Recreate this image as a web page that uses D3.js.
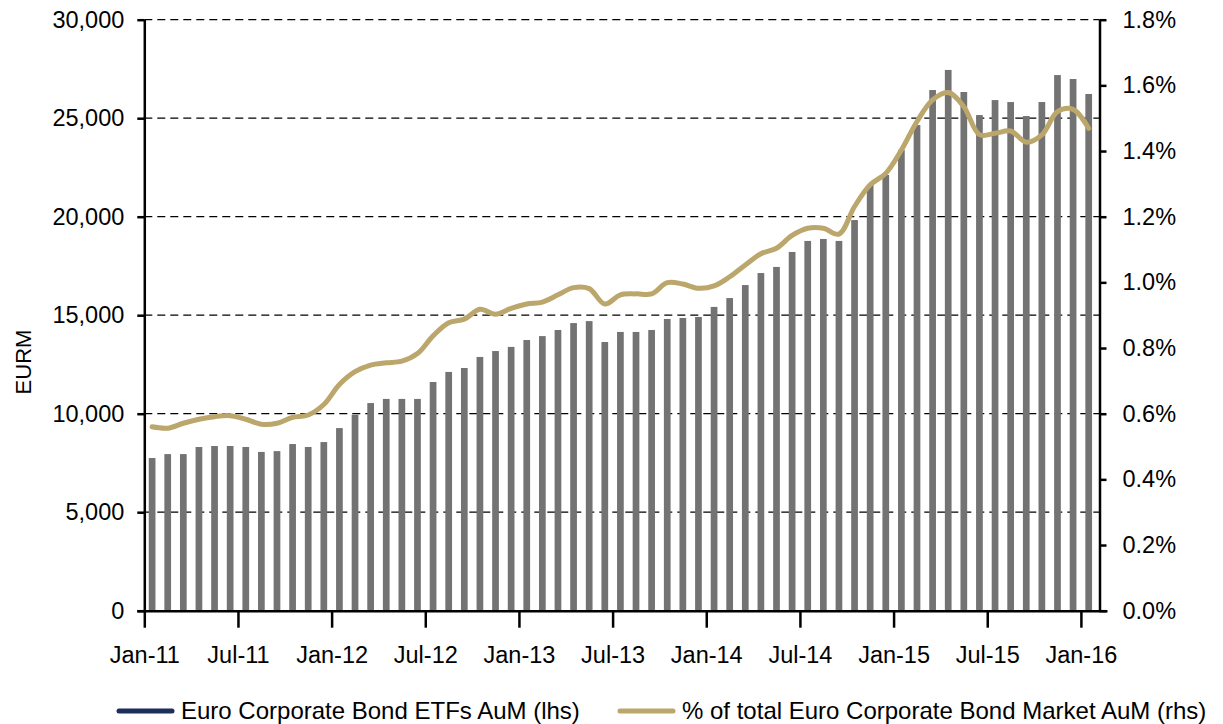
<!DOCTYPE html>
<html lang="en">
<head>
    <meta charset="utf-8">
    <title>Euro Corporate Bond ETFs AuM</title>
    <script src="https://d3js.org/d3.v7.min.js"></script>
    <style>
        body { margin: 0; background: #fff; }
        svg text { font-family: "Liberation Sans", Arial, Helvetica, sans-serif; fill: #000; }
    </style>
</head>
<body>
<div id="chart"></div>
<script>

    // Months shown as bars (Jan-11 .. Jan-16)
    const months = [
        "Jan-11", "Feb-11", "Mar-11", "Apr-11", "May-11", "Jun-11", "Jul-11", "Aug-11", "Sep-11", "Oct-11", "Nov-11", "Dec-11",
        "Jan-12", "Feb-12", "Mar-12", "Apr-12", "May-12", "Jun-12", "Jul-12", "Aug-12", "Sep-12", "Oct-12", "Nov-12", "Dec-12",
        "Jan-13", "Feb-13", "Mar-13", "Apr-13", "May-13", "Jun-13", "Jul-13", "Aug-13", "Sep-13", "Oct-13", "Nov-13", "Dec-13",
        "Jan-14", "Feb-14", "Mar-14", "Apr-14", "May-14", "Jun-14", "Jul-14", "Aug-14", "Sep-14", "Oct-14", "Nov-14", "Dec-14",
        "Jan-15", "Feb-15", "Mar-15", "Apr-15", "May-15", "Jun-15", "Jul-15", "Aug-15", "Sep-15", "Oct-15", "Nov-15", "Dec-15",
        "Jan-16"
    ];

    // Euro Corporate Bond ETFs AuM, EUR m (lhs)
    const aum = [
        7750, 7950, 7950, 8310, 8360, 8360, 8310, 8060, 8100, 8460, 8310, 8560,
        9270, 9950, 10540, 10750, 10750, 10750, 11610, 12120, 12320, 12880, 13180, 13390,
        13740, 13940, 14250, 14600, 14700, 13640, 14150, 14150, 14250, 14810, 14860, 14910,
        15420, 15870, 16530, 17140, 17450, 18210, 18770, 18870, 18770, 19830, 21610, 22120,
        23390, 24650, 26430, 27450, 26330, 25160, 25920, 25820, 25110, 25820, 27190, 26990,
        26230
    ];

    // % of total Euro Corporate Bond Market AuM (rhs)
    const share = [
        0.560, 0.556, 0.571, 0.583, 0.591, 0.594, 0.583, 0.568, 0.571, 0.589, 0.596, 0.628,
        0.689, 0.728, 0.748, 0.755, 0.760, 0.783, 0.837, 0.877, 0.888, 0.918, 0.903, 0.921,
        0.934, 0.940, 0.962, 0.984, 0.981, 0.934, 0.962, 0.965, 0.965, 0.999, 0.995, 0.982,
        0.989, 1.017, 1.053, 1.087, 1.104, 1.143, 1.165, 1.165, 1.147, 1.231, 1.297, 1.332,
        1.403, 1.490, 1.556, 1.578, 1.535, 1.450, 1.454, 1.461, 1.427, 1.449, 1.520, 1.527,
        1.469
    ];

    // Axis ticks
    const xTickLabels = ["Jan-11", "Jul-11", "Jan-12", "Jul-12", "Jan-13", "Jul-13", "Jan-14", "Jul-14", "Jan-15", "Jul-15", "Jan-16"];
    const leftTicks = [0, 5000, 10000, 15000, 20000, 25000, 30000];
    const rightTicks = [0, 0.2, 0.4, 0.6, 0.8, 1.0, 1.2, 1.4, 1.6, 1.8];

    const seriesNames = ["Euro Corporate Bond ETFs AuM (lhs)", "% of total Euro Corporate Bond Market AuM (rhs)"];

    const margin = {top: 19.7, left: 144.3},
        width = 955.2,
        height = 591;

    const svg = d3.select("#chart")
        .append("svg")
        .attr("width", 1223)
        .attr("height", 724);

    const g = svg.append("g")
        .attr("transform", `translate(${margin.left},${margin.top})`);

    // Scales
    const bandWidth = 61 * 15.61;
    const x = d3.scaleBand()
        .domain(months)
        .range([0, bandWidth])
        .paddingInner(0.57)
        .paddingOuter(0.285);

    const xIdx = d3.scaleLinear()
        .domain([0, months.length])
        .range([0, bandWidth]);

    const yLeft = d3.scaleLinear().domain([0, 30000]).range([height, 0]);
    const yRight = d3.scaleLinear().domain([0, 1.8]).range([height, 0]);

    // Dashed gridlines
    g.append("g")
        .selectAll("line")
        .data(leftTicks.slice(1))
        .join("line")
        .attr("x1", 0)
        .attr("x2", width)
        .attr("y1", d => yLeft(d))
        .attr("y2", d => yLeft(d))
        .attr("stroke", "#000")
        .attr("stroke-width", 1.3)
        .attr("stroke-dasharray", "8,5");

    // Bars
    g.append("g")
        .selectAll("rect")
        .data(aum)
        .join("rect")
        .attr("x", (d, i) => x(months[i]))
        .attr("width", x.bandwidth())
        .attr("y", d => yLeft(d))
        .attr("height", d => height - yLeft(d))
        .attr("fill", "#737373");

    // Share line
    const line = d3.line()
        .x((d, i) => x(months[i]) + x.bandwidth() / 2)
        .y(d => yRight(d))
        .curve(d3.curveCatmullRom.alpha(0.5));

    g.append("path")
        .datum(share)
        .attr("d", line)
        .attr("fill", "none")
        .attr("stroke", "#bba66c")
        .attr("stroke-width", 5)
        .attr("stroke-linecap", "round")
        .attr("stroke-linejoin", "round");

    // Axes
    const styleAxis = sel => {
        sel.selectAll("path, line").attr("stroke", "#000").attr("stroke-width", 2.5);
        sel.selectAll("text").attr("font-size", 23.5).attr("fill", "#000");
    };

    g.append("g")
        .call(d3.axisLeft(yLeft)
            .tickValues(leftTicks)
            .tickSize(7)
            .tickSizeOuter(0)
            .tickPadding(13)
            .tickFormat(d3.format(",")))
        .call(styleAxis)
        .call(a => a.select(".domain").attr("d", `M0.5,${height}V0`));

    g.append("g")
        .attr("transform", `translate(${width},0)`)
        .call(d3.axisRight(yRight)
            .tickValues(rightTicks)
            .tickSize(7)
            .tickSizeOuter(0)
            .tickPadding(16)
            .tickFormat(d => d.toFixed(1) + "%"))
        .call(styleAxis)
        .call(a => a.select(".domain").attr("d", `M0.5,${height}V0`));

    g.append("g")
        .attr("transform", `translate(0,${height})`)
        .call(d3.axisBottom(xIdx)
            .tickValues(d3.range(0, 61, 6))
            .tickSize(17)
            .tickSizeOuter(0)
            .tickPadding(19)
            .tickFormat((d, i) => xTickLabels[i]))
        .call(styleAxis)
        .call(a => a.select(".domain").attr("d", `M-7,0.5H${width + 8}`));

    // Y axis title
    svg.append("text")
        .attr("transform", "translate(31,362) rotate(-90)")
        .attr("text-anchor", "middle")
        .attr("font-size", 22)
        .text("EURM");

    // Legend
    const legendItems = [
        {name: seriesNames[0], color: "#1c2f5c", x: 119},
        {name: seriesNames[1], color: "#bba66c", x: 620}
    ];

    const legend = svg.append("g")
        .selectAll("g")
        .data(legendItems)
        .join("g")
        .attr("transform", d => `translate(${d.x},711)`);

    legend.append("line")
        .attr("x1", 0)
        .attr("x2", 53)
        .attr("stroke", d => d.color)
        .attr("stroke-width", 5)
        .attr("stroke-linecap", "round");

    legend.append("text")
        .attr("x", 62)
        .attr("y", 8)
        .attr("font-size", 24)
        .text(d => d.name);

</script>
</body>
</html>
